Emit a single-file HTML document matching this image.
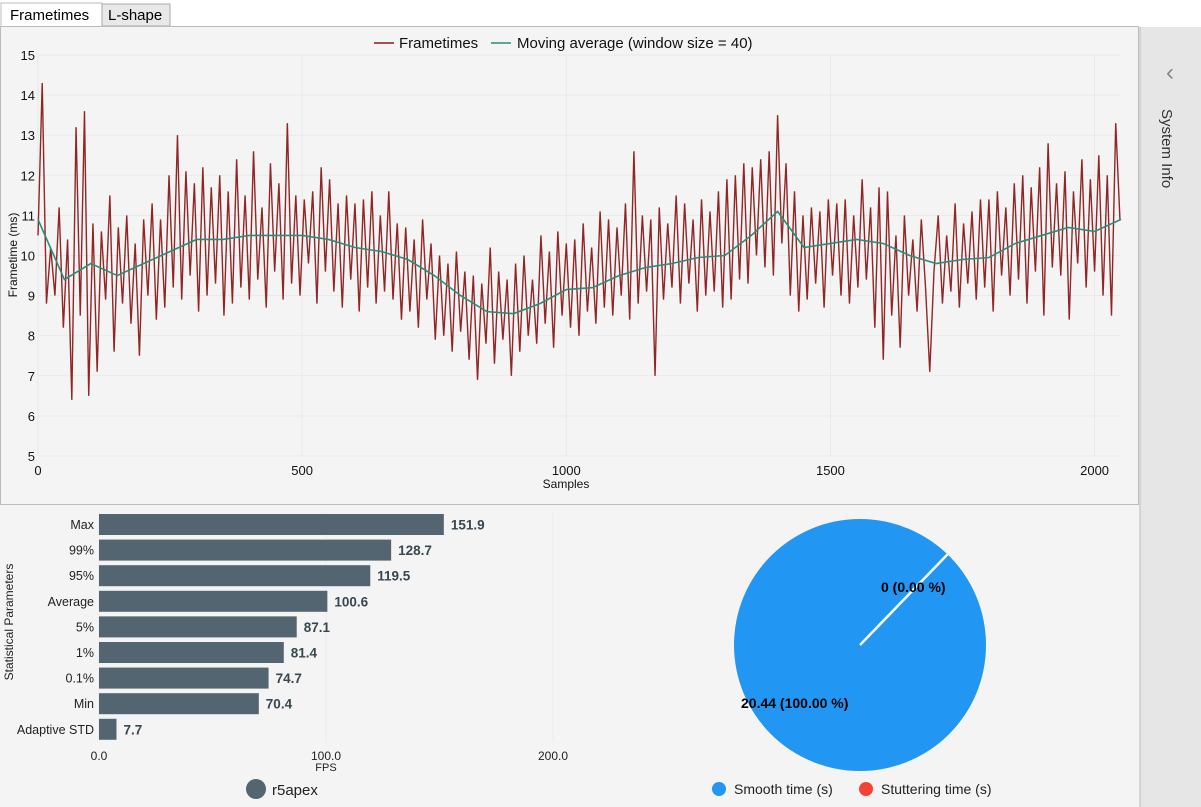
<!DOCTYPE html>
<html><head><meta charset="utf-8"><style>
body{margin:0;width:1201px;height:807px;overflow:hidden;background:#f4f4f4;font-family:"Liberation Sans",sans-serif}
svg{position:absolute;left:0;top:0}
</style></head><body>
<svg id="s" width="1201" height="807">
<rect x="0" y="0" width="1201" height="27" fill="#fff"/>
<rect x="1" y="3" width="101" height="25" fill="#fff" stroke="#bbb"/>
<text x="10" y="20" font-size="15" fill="#000">Frametimes</text>
<rect x="102" y="4" width="68" height="22" fill="#e8e8e8" stroke="#aaa"/>
<text x="108" y="20" font-size="15" fill="#000">L-shape</text>
<rect x="0.5" y="26.5" width="1138" height="478" fill="#f4f4f4" stroke="#bbb"/>
<rect x="1140" y="27" width="61" height="780" fill="#e6e6e6"/>
<line x1="1140" y1="27" x2="1140" y2="807" stroke="#bbb"/>
<text x="1170" y="80" font-size="24" fill="#888" text-anchor="middle">‹</text>
<text transform="translate(1162,109) rotate(90)" font-size="15" fill="#333">System Info</text>
<g id="lc"></g>
<g id="bc"></g>
<g id="pc"></g>
</svg>
<script>
const NS="http://www.w3.org/2000/svg";
function mk(p,t,a){const e=document.createElementNS(NS,t);for(const k in a)e.setAttribute(k,a[k]);p.appendChild(e);return e;}
// ---- line chart data ----
const yTicks=[5,6,7,8,9,10,11,12,13,14,15];
const xTicks=[0,500,1000,1500,2000];
const frameStep=8;
const frametimes=[10.5,14.3,8.8,10.2,9.0,11.2,8.2,10.4,
6.4,13.2,8.5,13.6,6.5,10.8,7.1,10.6,
8.9,11.5,7.6,10.7,8.8,11.0,8.3,10.3,
7.5,10.9,9.0,11.3,8.4,10.9,8.7,12.0,
9.2,13.0,8.9,12.1,9.5,11.8,8.6,12.2,
9.0,11.7,9.3,12.0,8.5,11.6,8.8,12.4,
9.2,11.5,8.9,12.6,9.4,11.2,8.7,12.3,
9.6,11.8,8.9,13.3,9.3,11.5,9.0,11.4,
9.8,11.6,8.8,12.2,9.6,11.9,9.1,11.3,
8.7,11.5,9.4,11.3,8.6,11.4,9.2,11.6,
8.8,11.0,9.1,11.6,8.9,10.8,8.4,10.7,
8.6,10.4,8.2,10.9,8.9,10.3,7.9,10.0,
8.0,9.8,7.6,10.1,8.1,9.6,7.4,9.5,
6.9,9.3,7.8,10.2,7.3,9.6,7.9,9.4,
7.0,9.8,7.6,10.0,8.0,9.4,7.8,10.5,
8.3,10.1,7.7,10.6,8.5,10.3,8.2,10.4,
8.0,10.8,8.6,10.2,8.3,11.1,8.7,10.9,
8.5,10.7,9.0,11.3,8.4,12.6,8.8,11.0,
9.1,10.9,7.0,11.2,8.9,10.8,9.2,11.5,
8.8,11.3,9.3,10.9,8.6,11.4,9.0,11.1,
9.1,11.6,8.7,11.9,8.9,12.0,9.4,12.3,
9.3,12.2,10.0,12.4,9.7,12.6,9.5,13.5,
10.3,12.3,9.0,11.6,8.6,11.0,8.9,11.2,
9.3,11.1,8.7,11.4,9.5,11.3,9.0,11.4,
8.8,11.0,9.2,11.9,9.4,11.2,8.2,11.7,
7.4,11.6,8.5,10.5,7.7,11.0,9.0,10.4,
8.6,10.9,9.2,7.1,9.6,11.0,8.8,10.5,
9.1,11.3,8.7,10.8,9.3,11.1,8.9,11.4,
9.2,11.4,8.6,11.6,9.5,11.2,9.0,11.8,
9.4,12.0,8.8,11.7,9.6,12.2,8.5,12.8,
9.7,11.8,9.5,12.1,8.4,11.6,9.8,12.4,
9.2,11.9,9.6,12.5,9.0,12.0,8.5,13.3,
10.9];
const maStep=50;
const movingAvg=[10.9,9.4,9.8,9.5,9.8,10.1,10.4,10.4,10.5,10.5,10.5,10.4,10.2,10.1,9.9,9.5,9.0,8.6,8.55,8.8,9.15,9.2,9.5,9.7,9.8,9.95,10.0,10.5,11.1,10.2,10.3,10.4,10.3,10.0,9.8,9.9,9.95,10.3,10.5,10.7,10.6,10.9];
// ---- bar chart data ----
const barLabels=["Max","99%","95%","Average","5%","1%","0.1%","Min","Adaptive STD"];
const barValues=[151.9,128.7,119.5,100.6,87.1,81.4,74.7,70.4,7.7];
const barTicks=[0,100,200];
// ---- pie data ----
const pieLabels=["Smooth time (s)","Stuttering time (s)"];
const pieValues=[20.44,0];

const L=38,R=1121,T=55,B=456;
const xs=v=>L+(v/2050)*(R-L);
const ys=v=>B-(v-5)/10*(B-T);
const lc=document.getElementById('lc');
yTicks.forEach(t=>{
 const l=mk(lc,'line',{x1:L,x2:R,y1:ys(t),y2:ys(t),stroke:'#e9e9e9'});
 
 
 const tx=mk(lc,'text',{x:35,y:ys(t)+5,'font-size':13,'text-anchor':'end',fill:'#111'});tx.textContent=t;
 
 
});
xTicks.forEach(t=>{
 const l=mk(lc,'line',{x1:xs(t),x2:xs(t),y1:T,y2:B,stroke:'#e9e9e9'});
 
 
 const tx=mk(lc,'text',{x:xs(t),y:475,'font-size':13,'text-anchor':'middle',fill:'#111'});tx.textContent=t;
 
 
});
let t1=mk(lc,'text',{x:566,y:488,'font-size':12,'text-anchor':'middle',fill:'#111'});t1.textContent='Samples';


let t2=mk(lc,'text',{transform:'translate(17,255) rotate(-90)','font-size':12,'text-anchor':'middle',fill:'#111'});t2.textContent='Frametime (ms)';


let fp=mk(lc,'polyline',{points:frametimes.map((v,i)=>xs(i*frameStep)+','+ys(v)).join(' '),fill:'none',stroke:'#8b1a1a','stroke-width':1.4,'stroke-opacity':0.95});


let mp=mk(lc,'polyline',{points:movingAvg.map((v,i)=>xs(Math.min(i*maStep,2050))+','+ys(v)).join(' '),fill:'none',stroke:'#2a8c7a','stroke-width':1.6});


let lg=mk(lc,'g',{});


mk(lg,'line',{x1:374,x2:394,y1:43,y2:43,stroke:'#8b1a1a','stroke-width':1.5});
let lt=mk(lg,'text',{x:399,y:48,'font-size':15,fill:'#111'});lt.textContent='Frametimes';
mk(lg,'line',{x1:491,x2:511,y1:43,y2:43,stroke:'#2a8c7a','stroke-width':1.5});
let lt2=mk(lg,'text',{x:517,y:48,'font-size':15,fill:'#111'});lt2.textContent='Moving average (window size = 40)';

// bars
const bc=document.getElementById('bc');
const bx=v=>99+v*2.27;
barTicks.forEach(t=>{
 const l=mk(bc,'line',{x1:bx(t),x2:bx(t),y1:512,y2:742,stroke:'#ececec'});
 
 
 const tx=mk(bc,'text',{x:bx(t),y:760,'font-size':12,'text-anchor':'middle',fill:'#222'});tx.textContent=t.toFixed(1);
 
 
});
barLabels.forEach((lab,i)=>{
 const cy=524.5+i*25.6;
 const r=mk(bc,'rect',{x:bx(0),y:cy-10.5,width:bx(barValues[i])-bx(0),height:21,fill:'#526570'});
 
 
 const tl=mk(bc,'text',{x:94,y:cy+4.5,'font-size':12.5,'text-anchor':'end',fill:'#222'});tl.textContent=lab;
 
 
 const vl=mk(bc,'text',{x:bx(barValues[i])+7,y:cy+5,'font-size':13.5,'font-weight':'bold',fill:'#37474f'});vl.textContent=barValues[i].toFixed(1);
 
 
});
let fx=mk(bc,'text',{x:326,y:771,'font-size':11,'text-anchor':'middle',fill:'#222'});fx.textContent='FPS';


let sp=mk(bc,'text',{transform:'translate(13,622) rotate(-90)','font-size':12,'text-anchor':'middle',fill:'#222'});sp.textContent='Statistical Parameters';


let bl=mk(bc,'circle',{cx:256,cy:789,r:10,fill:'#526570'});


let blt=mk(bc,'text',{x:272,y:795,'font-size':15,fill:'#222'});blt.textContent='r5apex';



// pie
const pc=document.getElementById('pc');
const cx=860,cy=645,rad=126;
const tot=pieValues.reduce((a,b)=>a+b,0);
const colors=['#2196f3','#f44336'];
let start=44*Math.PI/180;
pieValues.forEach((v,i)=>{
 const ang=v/tot*2*Math.PI;
 let el;
 if(ang>=2*Math.PI-1e-6){el=mk(pc,'circle',{cx:cx,cy:cy,r:rad,fill:colors[i]});}
 else if(ang>0){
  const a0=start-Math.PI/2,a1=start+ang-Math.PI/2;
  el=mk(pc,'path',{d:`M${cx},${cy} L${cx+rad*Math.cos(a0)},${cy+rad*Math.sin(a0)} A${rad},${rad} 0 ${ang>Math.PI?1:0} 1 ${cx+rad*Math.cos(a1)},${cy+rad*Math.sin(a1)} Z`,fill:colors[i]});
 }
 if(el){
 }
 start+=ang;
});
const sa=44*Math.PI/180-Math.PI/2;
let sep=mk(pc,'line',{x1:cx,y1:cy,x2:cx+rad*Math.cos(sa),y2:cy+rad*Math.sin(sa),stroke:'#fff','stroke-width':2.5});


let p1=mk(pc,'text',{x:741,y:708,'font-size':14,'font-weight':'bold',fill:'#000'});p1.textContent=pieValues[0].toFixed(2)+' (100.00 %)';


let p2=mk(pc,'text',{x:881,y:592,'font-size':14,'font-weight':'bold',fill:'#000'});p2.textContent=pieValues[1]+' (0.00 %)';


[[719,0],[866,1]].forEach(([x,i])=>{
 const c=mk(pc,'circle',{cx:x,cy:789,r:7,fill:colors[i]});
 
 
 const t=mk(pc,'text',{x:x+15,y:794,'font-size':14,fill:'#222'});t.textContent=pieLabels[i];
 
 
});
</script>
</body></html>
